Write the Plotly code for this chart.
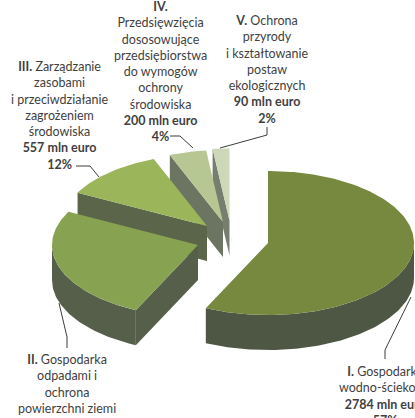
import math
import plotly.graph_objects as go

# --- data ---
categories = ["I", "II", "III", "IV", "V"]
values = [2784, 1253, 557, 200, 90]
top_colors = ["#76893f", "#87a250", "#9bb55b", "#b7c793", "#ccd8b7"]
side_colors = ["#4e5744", "#555f4a", "#5a654a", "#6b7561", "#767e70"]
label_lines = [
    "<b>I.</b> Gospodarka<br>wodno-ściekowa<br><b>2784 mln euro</b><br><b>57%</b>",
    "<b>II.</b> Gospodarka<br>odpadami i<br>ochrona<br>powierzchni ziemi",
    "<b>III.</b> Zarządzanie<br>zasobami<br>i przeciwdziałanie<br>zagrożeniem<br>środowiska<br><b>557 mln euro</b><br><b>12%</b>",
    "<b>IV.</b><br>Przedsięwzięcia<br>dososowujące<br>przedsiębiorstwa<br>do wymogów<br>ochrony<br>środowiska<br><b>200 mln euro</b><br><b>4%</b>",
    "<b>V.</b> Ochrona<br>przyrody<br>i kształtowanie<br>postaw<br>ekologicznych<br><b>90 mln euro</b><br><b>2%</b>",
]

# --- layout parameters of the exploded, tilted pie ---
W, H = 415, 418
RX, RY, DEPTH = 146, 72, 35
apex_x = [268, 198, 207, 223, 229.5]
apex_y = [243, 245, 226, 222, 220.5]
label_x = [385, 67, 59, 160, 267]
label_top = [362.5, 350.5, 57.5, -1.5, 11.5]
leaders = [
    ([411, 385, 385], [297, 350, 359]),
    ([59, 67, 67], [303, 337, 348]),
    ([99, 90, 76], [177, 166, 166]),
    ([193, 180, 170], [148, 136, 136]),
    ([220, 267, 267], [148, 135, 127]),
]
LEADER_COLOR = "#3c3c3c"
TEXT_COLOR = "#3f3f3f"

fig = go.Figure()


def add_poly(xs, ys, color):
    fig.add_trace(go.Scatter(x=xs, y=ys, mode="lines", fill="toself", fillcolor=color,
                             line=dict(width=0, color=color), hoverinfo="skip", showlegend=False))


def pt(cx, cy, deg, dz=0):
    a = math.radians(deg)
    return cx + RX * math.sin(a), cy - RY * math.cos(a) + dz


def arc(cx, cy, a0, a1, dz=0):
    n = max(2, int(abs(a1 - a0)) + 1)
    return [pt(cx, cy, a0 + (a1 - a0) * i / (n - 1), dz) for i in range(n)]


total = sum(values)
starts, acc = [], 0.0
for v in values:
    starts.append(acc)
    acc += v / total * 360
ends = starts[1:] + [360.0]

# back-to-front painting order
for i in [4, 3, 2, 0, 1]:
    cx, cy, a0, a1 = apex_x[i], apex_y[i], starts[i], ends[i]
    sx, sy = pt(cx, cy, a0)
    # cut face along the starting radius
    add_poly([cx, sx, sx, cx, cx], [cy, sy, sy + DEPTH, cy + DEPTH, cy], side_colors[i])
    # outer wall: only the part facing the viewer
    w0, w1 = max(a0, 90), min(a1, 270)
    if w1 > w0:
        upper = arc(cx, cy, w0, w1)
        lower = arc(cx, cy, w1, w0, DEPTH)
        poly = upper + lower + [upper[0]]
        add_poly([p[0] for p in poly], [p[1] for p in poly], side_colors[i])
    # top surface
    rim = arc(cx, cy, a0, a1)
    poly = [(cx, cy)] + rim + [(cx, cy)]
    add_poly([p[0] for p in poly], [p[1] for p in poly], top_colors[i])

for lx, ly in leaders:
    fig.add_trace(go.Scatter(x=lx, y=ly, mode="lines", line=dict(color=LEADER_COLOR, width=1),
                             hoverinfo="skip", showlegend=False))

for i in range(len(categories)):
    fig.add_annotation(x=label_x[i] / W, y=1 - label_top[i] / H, xref="paper", yref="paper",
                       text=label_lines[i],
                       showarrow=False, xanchor="center", yanchor="top", align="center",
                       borderpad=0, font=dict(family="Lato", size=12.5, color=TEXT_COLOR))

fig.update_layout(
    width=W, height=H, margin=dict(l=0, r=0, t=0, b=0),
    paper_bgcolor="white", plot_bgcolor="white", showlegend=False,
    xaxis=dict(range=[0, W], visible=False, fixedrange=True),
    yaxis=dict(range=[H, 0], visible=False, fixedrange=True),
)
fig.write_html("out.html", config={"displayModeBar": False},
               post_script="document.body.style.margin='0';")
